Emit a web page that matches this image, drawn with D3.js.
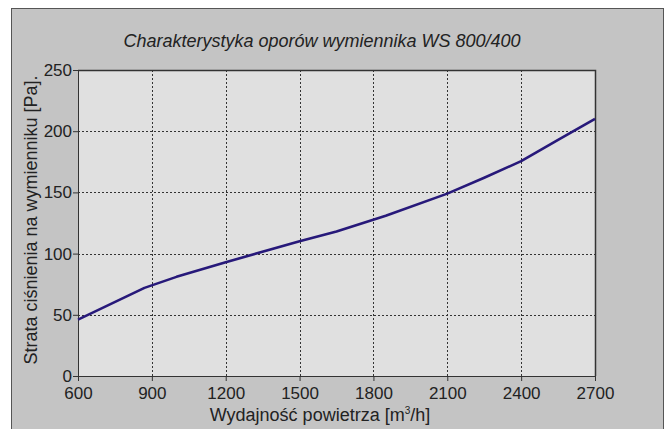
<!DOCTYPE html>
<html>
<head>
<meta charset="utf-8">
<script src="https://cdn.jsdelivr.net/npm/d3@7"></script>
<style>
  body { margin: 0; background: #fff; }
  svg { display: block; font-family: "Liberation Sans", Arial, sans-serif; }
</style>
</head>
<body>
<div id="chart"></div>
<script>
// airflow [m3/h] vs pressure drop [Pa]
var FLOW = [600, 870, 1000, 1200, 1500, 1650, 1850, 2100, 2250, 2400, 2550, 2700];
var DROP = [46, 72, 81, 93, 110, 118, 131, 149, 162, 175.5, 193, 210];
var X_TICKS = [600, 900, 1200, 1500, 1800, 2100, 2400, 2700];
var Y_TICKS = [0, 50, 100, 150, 200, 250];
var TITLE = "Charakterystyka oporów wymiennika WS 800/400";
var X_LABEL = "Wydajność powietrza [m";
var Y_LABEL = "Strata ciśnienia na wymienniku [Pa].";

var W = 665, H = 429;
var margin = { top: 70, right: 70, bottom: 53, left: 78 };
var width = W - margin.left - margin.right,
    height = H - margin.top - margin.bottom;

var svg = d3.select("#chart").append("svg")
    .attr("width", W)
    .attr("height", H);

// outer frame
svg.append("rect")
    .attr("x", 11.5).attr("y", 8.5)
    .attr("width", 652).attr("height", H)
    .style("fill", "#c4c4c4")
    .style("stroke", "#555")
    .style("stroke-width", 1);

svg.append("text")
    .attr("x", 322).attr("y", 47)
    .attr("text-anchor", "middle")
    .style("font-size", "18px")
    .style("font-style", "italic")
    .style("fill", "#222")
    .text(TITLE);

var g = svg.append("g")
    .attr("transform", "translate(" + margin.left + "," + margin.top + ")");

var x = d3.scaleLinear().domain([600, 2700]).range([0, width]);
var y = d3.scaleLinear().domain([0, 250]).range([height, 0]);

g.append("rect")
    .attr("width", width).attr("height", height)
    .style("fill", "#e0e0e0");

//grid
g.selectAll("line.vgrid")
    .data(X_TICKS.slice(1, -1))
    .enter().append("line")
    .attr("class", "vgrid")
    .attr("x1", function (d) { return Math.round(x(d)) + 0.5; })
    .attr("x2", function (d) { return Math.round(x(d)) + 0.5; })
    .attr("y1", 0).attr("y2", height)
    .style("stroke", "#333")
    .style("stroke-dasharray", "2,2");

g.selectAll("line.hgrid")
    .data(Y_TICKS.slice(1, -1))
    .enter().append("line")
    .attr("class", "hgrid")
    .attr("y1", function (d) { return Math.round(y(d)) + 0.5; })
    .attr("y2", function (d) { return Math.round(y(d)) + 0.5; })
    .attr("x1", 0).attr("x2", width)
    .style("stroke", "#333")
    .style("stroke-dasharray", "2,2");

// top and right frame
g.append("path")
    .attr("d", "M0,0.5H" + (width + 0.5) + "V" + height)
    .style("fill", "none")
    .style("stroke", "#333")
    .style("stroke-width", 1.5);

var xAxis = g.append("g")
    .attr("transform", "translate(0," + height + ")")
    .call(d3.axisBottom(x).tickValues(X_TICKS).tickFormat(d3.format("d"))
        .tickSize(5).tickPadding(6).tickSizeOuter(0));

var yAxis = g.append("g")
    .call(d3.axisLeft(y).tickValues(Y_TICKS).tickFormat(d3.format("d"))
        .tickSize(5).tickPadding(1).tickSizeOuter(0));

[xAxis, yAxis].forEach(function (a) {
    a.select(".domain").style("stroke", "#333");
    a.selectAll(".tick line").style("stroke", "#333");
    a.selectAll("text")
        .style("font-family", "Liberation Sans, Arial, sans-serif")
        .style("font-size", "17px")
        .style("fill", "#222");
});

var line = d3.line()
    .x(function (d, i) { return x(FLOW[i]); })
    .y(function (d) { return y(d); });

g.append("path")
    .datum(DROP)
    .attr("d", line)
    .style("fill", "none")
    .style("stroke", "#27197a")
    .style("stroke-width", 2.6)
    .style("stroke-linejoin", "round");

// axis titles
var xt = svg.append("text")
    .attr("x", 320).attr("y", 421)
    .attr("text-anchor", "middle")
    .style("font-size", "18px")
    .style("fill", "#222");
xt.append("tspan").text(X_LABEL);
xt.append("tspan").attr("dy", -7).style("font-size", "10px").text("3");
xt.append("tspan").attr("dy", 7).text("/h]");

svg.append("text")
    .attr("transform", "translate(37,220) rotate(-90)")
    .attr("text-anchor", "middle")
    .style("font-size", "18px")
    .style("fill", "#222")
    .text(Y_LABEL);
</script>
</body>
</html>
